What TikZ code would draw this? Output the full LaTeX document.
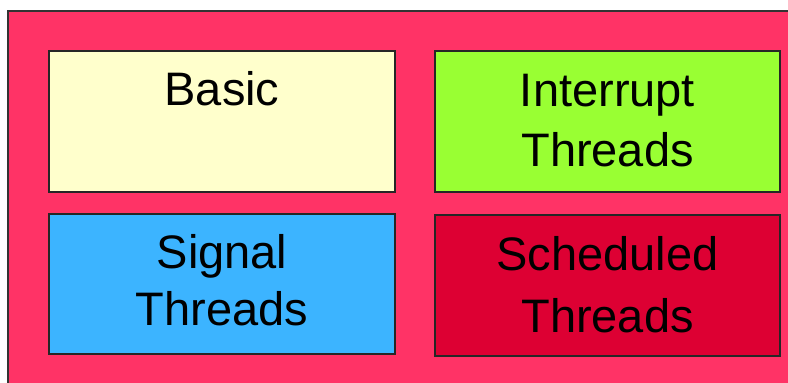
\documentclass[tikz,border=0pt]{standalone}
\usepackage{fontspec}
\setmainfont{Liberation Sans}
\usetikzlibrary{positioning}

\definecolor{framepink}{HTML}{FF3366}
\definecolor{basicyellow}{HTML}{FFFFCC}
\definecolor{irqgreen}{HTML}{99FF33}
\definecolor{sigblue}{HTML}{3CB4FF}
\definecolor{schedred}{HTML}{DD0033}

\tikzset{
    kindbox/.style={draw=black!85, line width=2pt, minimum width=346pt,
        minimum height=141pt, inner sep=0pt},
    kindtext/.style={anchor=base, inner sep=0pt,
        font=\fontsize{47}{58}\selectfont}
}

\begin{document}
\begin{tikzpicture}[x=1pt,y=1pt]
    \useasboundingbox (0,0) rectangle (788,383);
    \draw[fill=framepink, draw=black!80, line width=1.5pt] (8,372) rectangle (795,-5);

    \node[kindbox, fill=basicyellow] (basic) at (222,261.5) {};
    \node[kindbox, fill=irqgreen, minimum width=345pt] (irq) at (607.5,261.5) {};
    \node[kindbox, fill=sigblue, minimum height=140pt] (sig) at (222,99) {};
    \node[kindbox, fill=schedred, minimum width=345pt] (sched) at (607.5,97.5) {};

    % one node per text line, set on its baseline
    \node[kindtext, yshift=-56pt] (basic-txt) at (basic.north) {Basic};
    \node[kindtext, yshift=-57pt] (irq-txt1) at (irq.north) {Interrupt};
    \node[kindtext, yshift=-117pt] (irq-txt2) at (irq.north) {Threads};
    \node[kindtext, yshift=-56pt] (sig-txt1) at (sig.north) {Signal};
    \node[kindtext, yshift=-113pt] (sig-txt2) at (sig.north) {Threads};
    \node[kindtext, yshift=-57pt] (sched-txt1) at (sched.north) {Scheduled};
    \node[kindtext, yshift=-119pt] (sched-txt2) at (sched.north) {Threads};
\end{tikzpicture}
\end{document}
